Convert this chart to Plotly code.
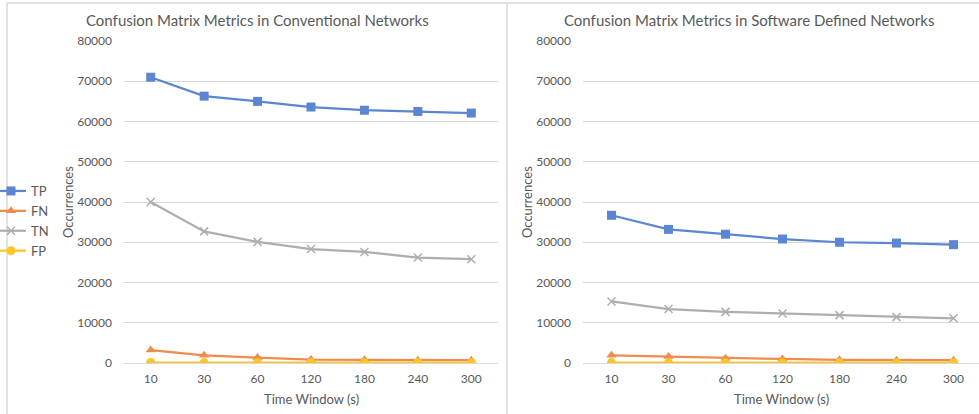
import plotly.graph_objects as go

time_windows = ["10", "30", "60", "120", "180", "240", "300"]

conv_tp = [71000, 66300, 65000, 63600, 62800, 62500, 62100]
conv_fn = [3200, 1900, 1350, 850, 800, 700, 700]
conv_tn = [40000, 32700, 30100, 28300, 27600, 26200, 25800]
conv_fp = [120, 100, 100, 90, 90, 80, 80]

sdn_tp = [36700, 33200, 32000, 30800, 30000, 29800, 29400]
sdn_fn = [1900, 1600, 1200, 1000, 800, 700, 700]
sdn_tn = [15300, 13400, 12700, 12300, 11900, 11400, 11100]
sdn_fp = [100, 90, 80, 80, 70, 70, 70]

series_names = ["TP", "FN", "TN", "FP"]
colors = ["#5B86D1", "#EE8B4F", "#AEAEAE", "#FFC526"]
symbols = ["square", "triangle-up", "x-thin", "circle"]
msizes = [9, 9, 8, 9]

W, H = 979, 414
FONT = "Lato"
TXT = "#595959"
GRID = "#D9D9D9"

fig = go.Figure()

panels = [
    ("x", "y", [conv_tp, conv_fn, conv_tn, conv_fp], True),
    ("x2", "y2", [sdn_tp, sdn_fn, sdn_tn, sdn_fp], False),
]
for xa, ya, data, show in panels:
    for name, vals, c, s, ms in zip(series_names, data, colors, symbols, msizes):
        fig.add_trace(go.Scatter(
            x=time_windows, y=vals, name=name, xaxis=xa, yaxis=ya,
            mode="lines+markers", showlegend=show,
            line=dict(color=c, width=2.25),
            marker=dict(symbol=s, size=ms, color=c,
                        line=dict(color=c, width=1.5 if s == "x-thin" else 0)),
        ))

def px_x(v):
    return v / W

def px_y(v):
    return 1 - v / H

yax = dict(range=[0, 80000], tickvals=[0, 10000, 20000, 30000, 40000, 50000, 60000, 70000, 80000],
           tickformat="d",
           showgrid=True, gridcolor=GRID, gridwidth=1, zeroline=False, showline=False,
           tickfont=dict(family=FONT, size=12, color=TXT), ticks="", ticklabelstandoff=11,
           domain=[px_y(363), px_y(41)], fixedrange=True)
xax = dict(type="category", showgrid=False, zeroline=False, showline=True, linecolor=GRID, linewidth=1,
           tickfont=dict(family=FONT, size=12, color=TXT), ticks="", ticklabelstandoff=5)

fig.update_layout(
    width=W, height=H, margin=dict(l=0, r=0, t=0, b=0, autoexpand=False),
    paper_bgcolor="white", plot_bgcolor="white",
    xaxis=dict(xax, domain=[px_x(124), px_x(498)], range=[-0.5, 6.5], anchor="y"),
    yaxis=dict(yax, anchor="x"),
    xaxis2=dict(xax, domain=[px_x(583), 1.0], range=[-0.5, 6.447], anchor="y2"),
    yaxis2=dict(yax, anchor="x2"),
    legend=dict(x=px_x(-9), y=px_y(176), xanchor="left", yanchor="top",
                font=dict(family=FONT, size=13, color=TXT), itemwidth=30,
                tracegroupgap=0, bgcolor="rgba(0,0,0,0)"),
    showlegend=True,
)

annotations = [
    dict(text="Confusion Matrix Metrics in Conventional Networks", x=px_x(257), y=px_y(20),
         font=dict(family=FONT, size=15, color=TXT)),
    dict(text="Confusion Matrix Metrics in Software Defined Networks", x=px_x(749), y=px_y(20),
         font=dict(family=FONT, size=15, color=TXT)),
    dict(text="Time Window (s)", x=px_x(311), y=px_y(399), font=dict(family=FONT, size=13, color=TXT)),
    dict(text="Time Window (s)", x=px_x(781), y=px_y(399), font=dict(family=FONT, size=13, color=TXT)),
    dict(text="Occurrences", x=px_x(68), y=px_y(202), textangle=-90, font=dict(family=FONT, size=13, color=TXT)),
    dict(text="Occurrences", x=px_x(527), y=px_y(202), textangle=-90, font=dict(family=FONT, size=13, color=TXT)),
]
for a in annotations:
    a.update(xref="paper", yref="paper", showarrow=False, xanchor="center", yanchor="middle")
fig.update_layout(annotations=annotations)

shapes = [
    dict(type="line", x0=px_x(7), x1=1.0, y0=px_y(3), y1=px_y(3)),
    dict(type="line", x0=px_x(7), x1=px_x(7), y0=px_y(3), y1=0),
    dict(type="line", x0=px_x(507), x1=px_x(507), y0=px_y(3), y1=0),
]
for s in shapes:
    s.update(xref="paper", yref="paper", line=dict(color=GRID, width=1.5))
fig.update_layout(shapes=shapes)

fig.write_html(
    "out.html",
    config={"displayModeBar": False},
    post_script="document.body.style.margin='0';document.body.style.overflow='hidden';",
)
